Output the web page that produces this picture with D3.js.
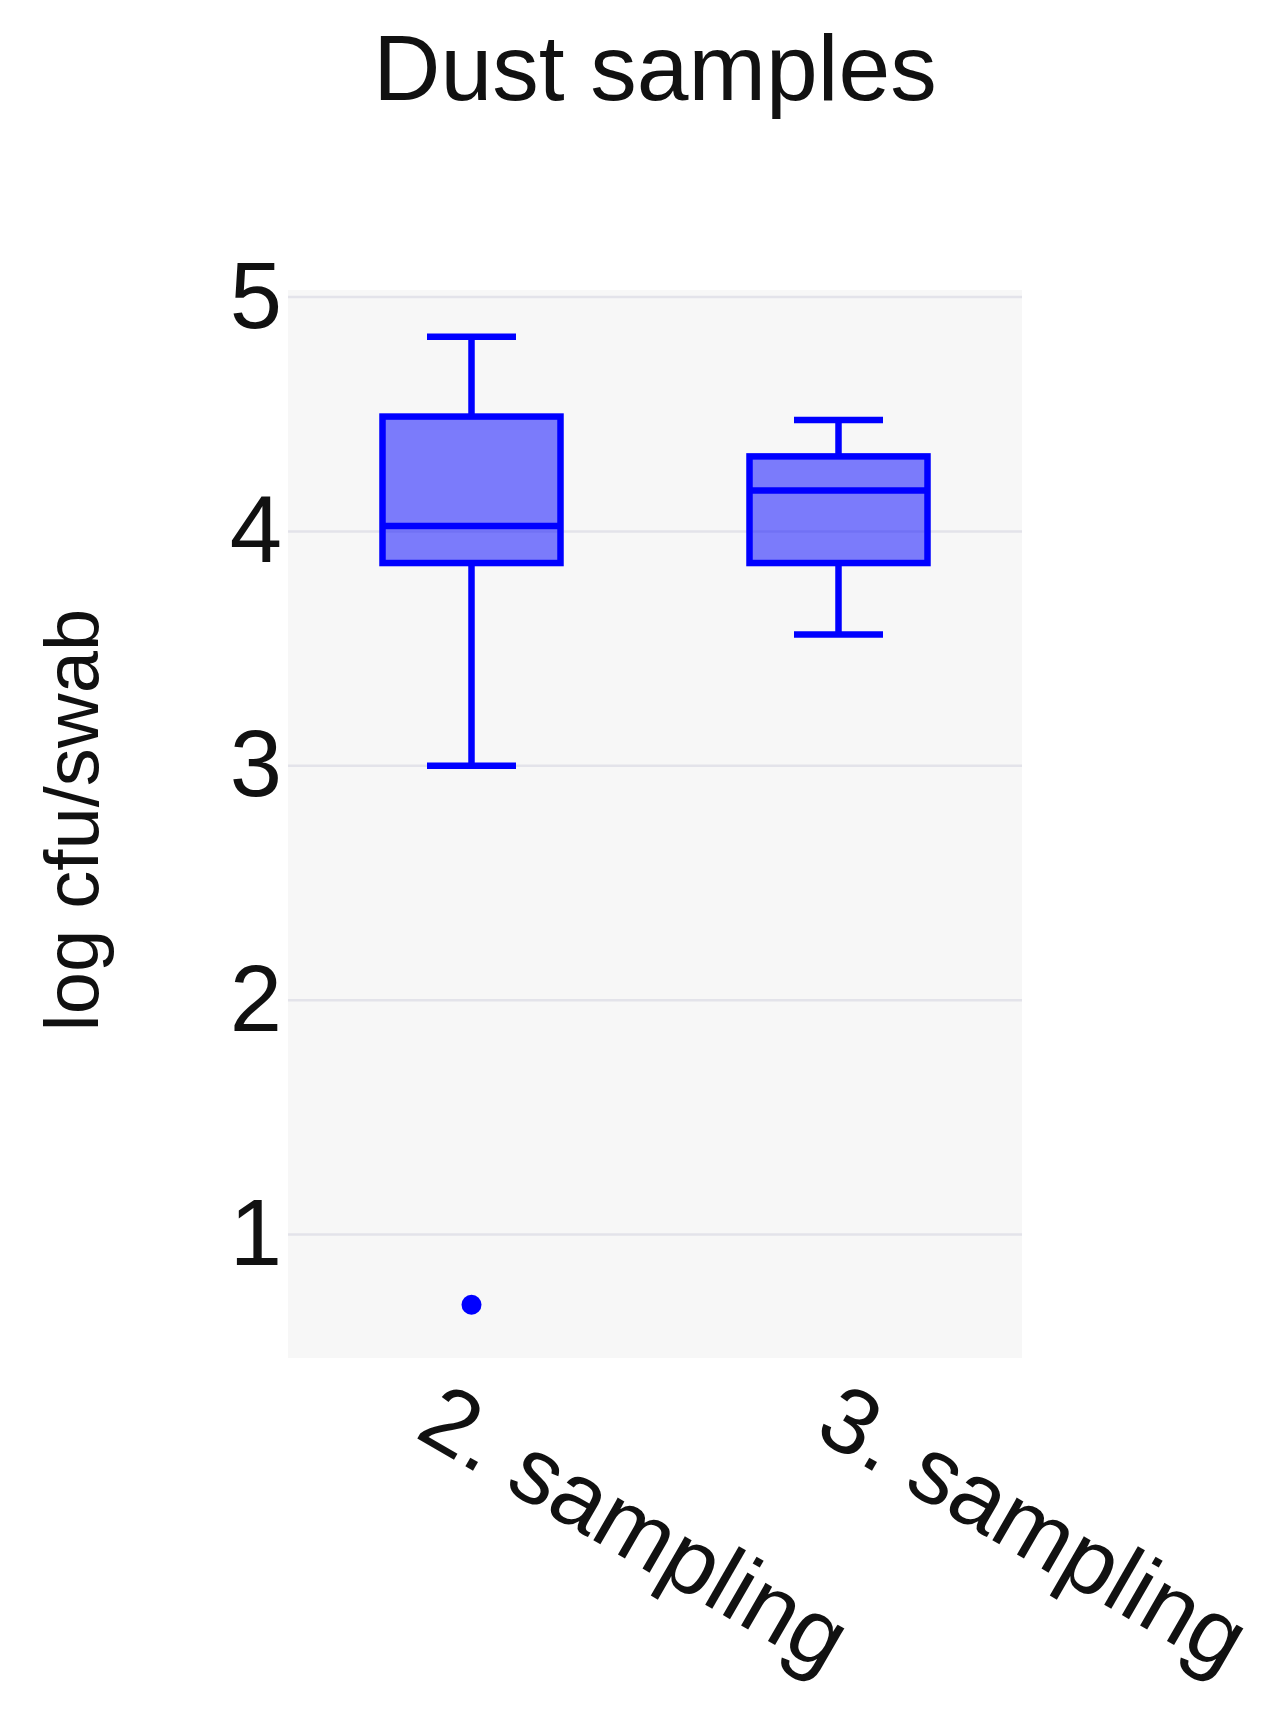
<!DOCTYPE html>
<html>
<head>
<meta charset="utf-8">
<script src="https://cdn.jsdelivr.net/npm/d3@7"></script>
<style>
  body { margin: 0; background: #fff; }
  svg { display: block; font-family: "Liberation Sans", Arial, sans-serif; }
</style>
</head>
<body>
<svg id="chart"></svg>
<script>
var width = 1275;
var height = 1715;

// data (log cfu/swab)
var categories = ["2. sampling", "3. sampling"];
var whiskerLow = [3.0, 3.56];
var q1 = [3.865, 3.865];
var median = [4.023, 4.175];
var q3 = [4.49, 4.32];
var whiskerHigh = [4.83, 4.475];
var outliers = [[0.70], []];
var yTicks = [1, 2, 3, 4, 5];

var margin = {top: 290, right: 253, bottom: 357, left: 288};

var svg = d3.select("#chart")
    .attr("width", width)
    .attr("height", height);

var x = d3.scaleBand()
  .domain(categories)
  .range([margin.left, width - margin.right]);

var y = d3.scaleLinear()
  .domain([0.473, 5.03])
  .range([height - margin.bottom, margin.top]);

// plot background
svg.append("rect")
  .attr("x", margin.left)
  .attr("y", margin.top)
  .attr("width", width - margin.left - margin.right)
  .attr("height", height - margin.top - margin.bottom)
  .attr("fill", "#f7f7f7");

// grid lines
svg.append("g")
  .selectAll("line")
  .data(yTicks)
  .enter().append("line")
  .attr("x1", margin.left)
  .attr("x2", width - margin.right)
  .attr("y1", function(d) { return y(d); })
  .attr("y2", function(d) { return y(d); })
  .attr("stroke", "#e3e3ea")
  .attr("stroke-width", 2.5);

// y axis labels
var yAxis = d3.axisLeft(y).tickValues(yTicks).tickFormat(d3.format("d")).tickSize(0).tickPadding(6);
var yAxisG = svg.append("g")
  .attr("transform", "translate(" + margin.left + ",0)")
  .call(yAxis);
yAxisG.select(".domain").remove();
yAxisG.selectAll("text")
  .attr("font-size", 94)
  .attr("font-family", "Liberation Sans, Arial, sans-serif")
  .attr("fill", "#111");

// x axis labels (the second label sits a little further right in the original)
var labelShift = [-42, -10];
var xAxis = d3.axisBottom(x).tickSize(0).tickPadding(0);
var xAxisG = svg.append("g")
  .attr("transform", "translate(0," + (height - margin.bottom) + ")")
  .call(xAxis);
xAxisG.select(".domain").remove();
xAxisG.selectAll("text")
  .attr("font-size", 93)
  .attr("font-family", "Liberation Sans, Arial, sans-serif")
  .attr("fill", "#111")
  .attr("text-anchor", "start")
  .attr("dy", "0.35em")
  .attr("transform", function(d, i) { return "translate(" + labelShift[i] + ",50) rotate(30)"; });

var boxW = x.bandwidth() * 0.485;
var boxes = categories.map(function(c, i) {
  return {cat: c, lo: whiskerLow[i], q1: q1[i], med: median[i], q3: q3[i], hi: whiskerHigh[i], out: outliers[i]};
});

var g = svg.append("g").selectAll("g")
  .data(boxes)
  .enter().append("g")
  .attr("transform", function(d) { return "translate(" + (x(d.cat) + x.bandwidth() / 2) + ",0)"; });

var blue = "#0000ff";
var sw = 6.5;

// whisker stems
g.append("line")
  .attr("x1", 0).attr("x2", 0)
  .attr("y1", function(d) { return y(d.q3); })
  .attr("y2", function(d) { return y(d.hi); })
  .attr("stroke", blue).attr("stroke-width", sw);
g.append("line")
  .attr("x1", 0).attr("x2", 0)
  .attr("y1", function(d) { return y(d.q1); })
  .attr("y2", function(d) { return y(d.lo); })
  .attr("stroke", blue).attr("stroke-width", sw);

// caps
g.selectAll(".cap")
  .data(function(d) { return [d.lo, d.hi]; })
  .enter().append("line")
  .attr("class", "cap")
  .attr("x1", -boxW / 4).attr("x2", boxW / 4)
  .attr("y1", function(d) { return y(d); })
  .attr("y2", function(d) { return y(d); })
  .attr("stroke", blue).attr("stroke-width", sw);

// boxes
g.append("rect")
  .attr("x", -boxW / 2)
  .attr("width", boxW)
  .attr("y", function(d) { return y(d.q3); })
  .attr("height", function(d) { return y(d.q1) - y(d.q3); })
  .attr("fill", blue)
  .attr("fill-opacity", 0.5)
  .attr("stroke", blue)
  .attr("stroke-width", sw);

// medians
g.append("line")
  .attr("x1", -boxW / 2).attr("x2", boxW / 2)
  .attr("y1", function(d) { return y(d.med); })
  .attr("y2", function(d) { return y(d.med); })
  .attr("stroke", blue).attr("stroke-width", sw);

// outliers
g.selectAll(".out")
  .data(function(d) { return d.out; })
  .enter().append("circle")
  .attr("class", "out")
  .attr("cx", 0)
  .attr("cy", function(d) { return y(d); })
  .attr("r", 10)
  .attr("fill", blue);

// titles
svg.append("text")
  .attr("x", 655)
  .attr("y", 100)
  .attr("text-anchor", "middle")
  .attr("font-size", 93)
  .attr("fill", "#111")
  .text("Dust samples");

svg.append("text")
  .attr("transform", "translate(98,820) rotate(-90)")
  .attr("text-anchor", "middle")
  .attr("font-size", 76)
  .attr("fill", "#111")
  .text("log cfu/swab");
</script>
</body>
</html>
